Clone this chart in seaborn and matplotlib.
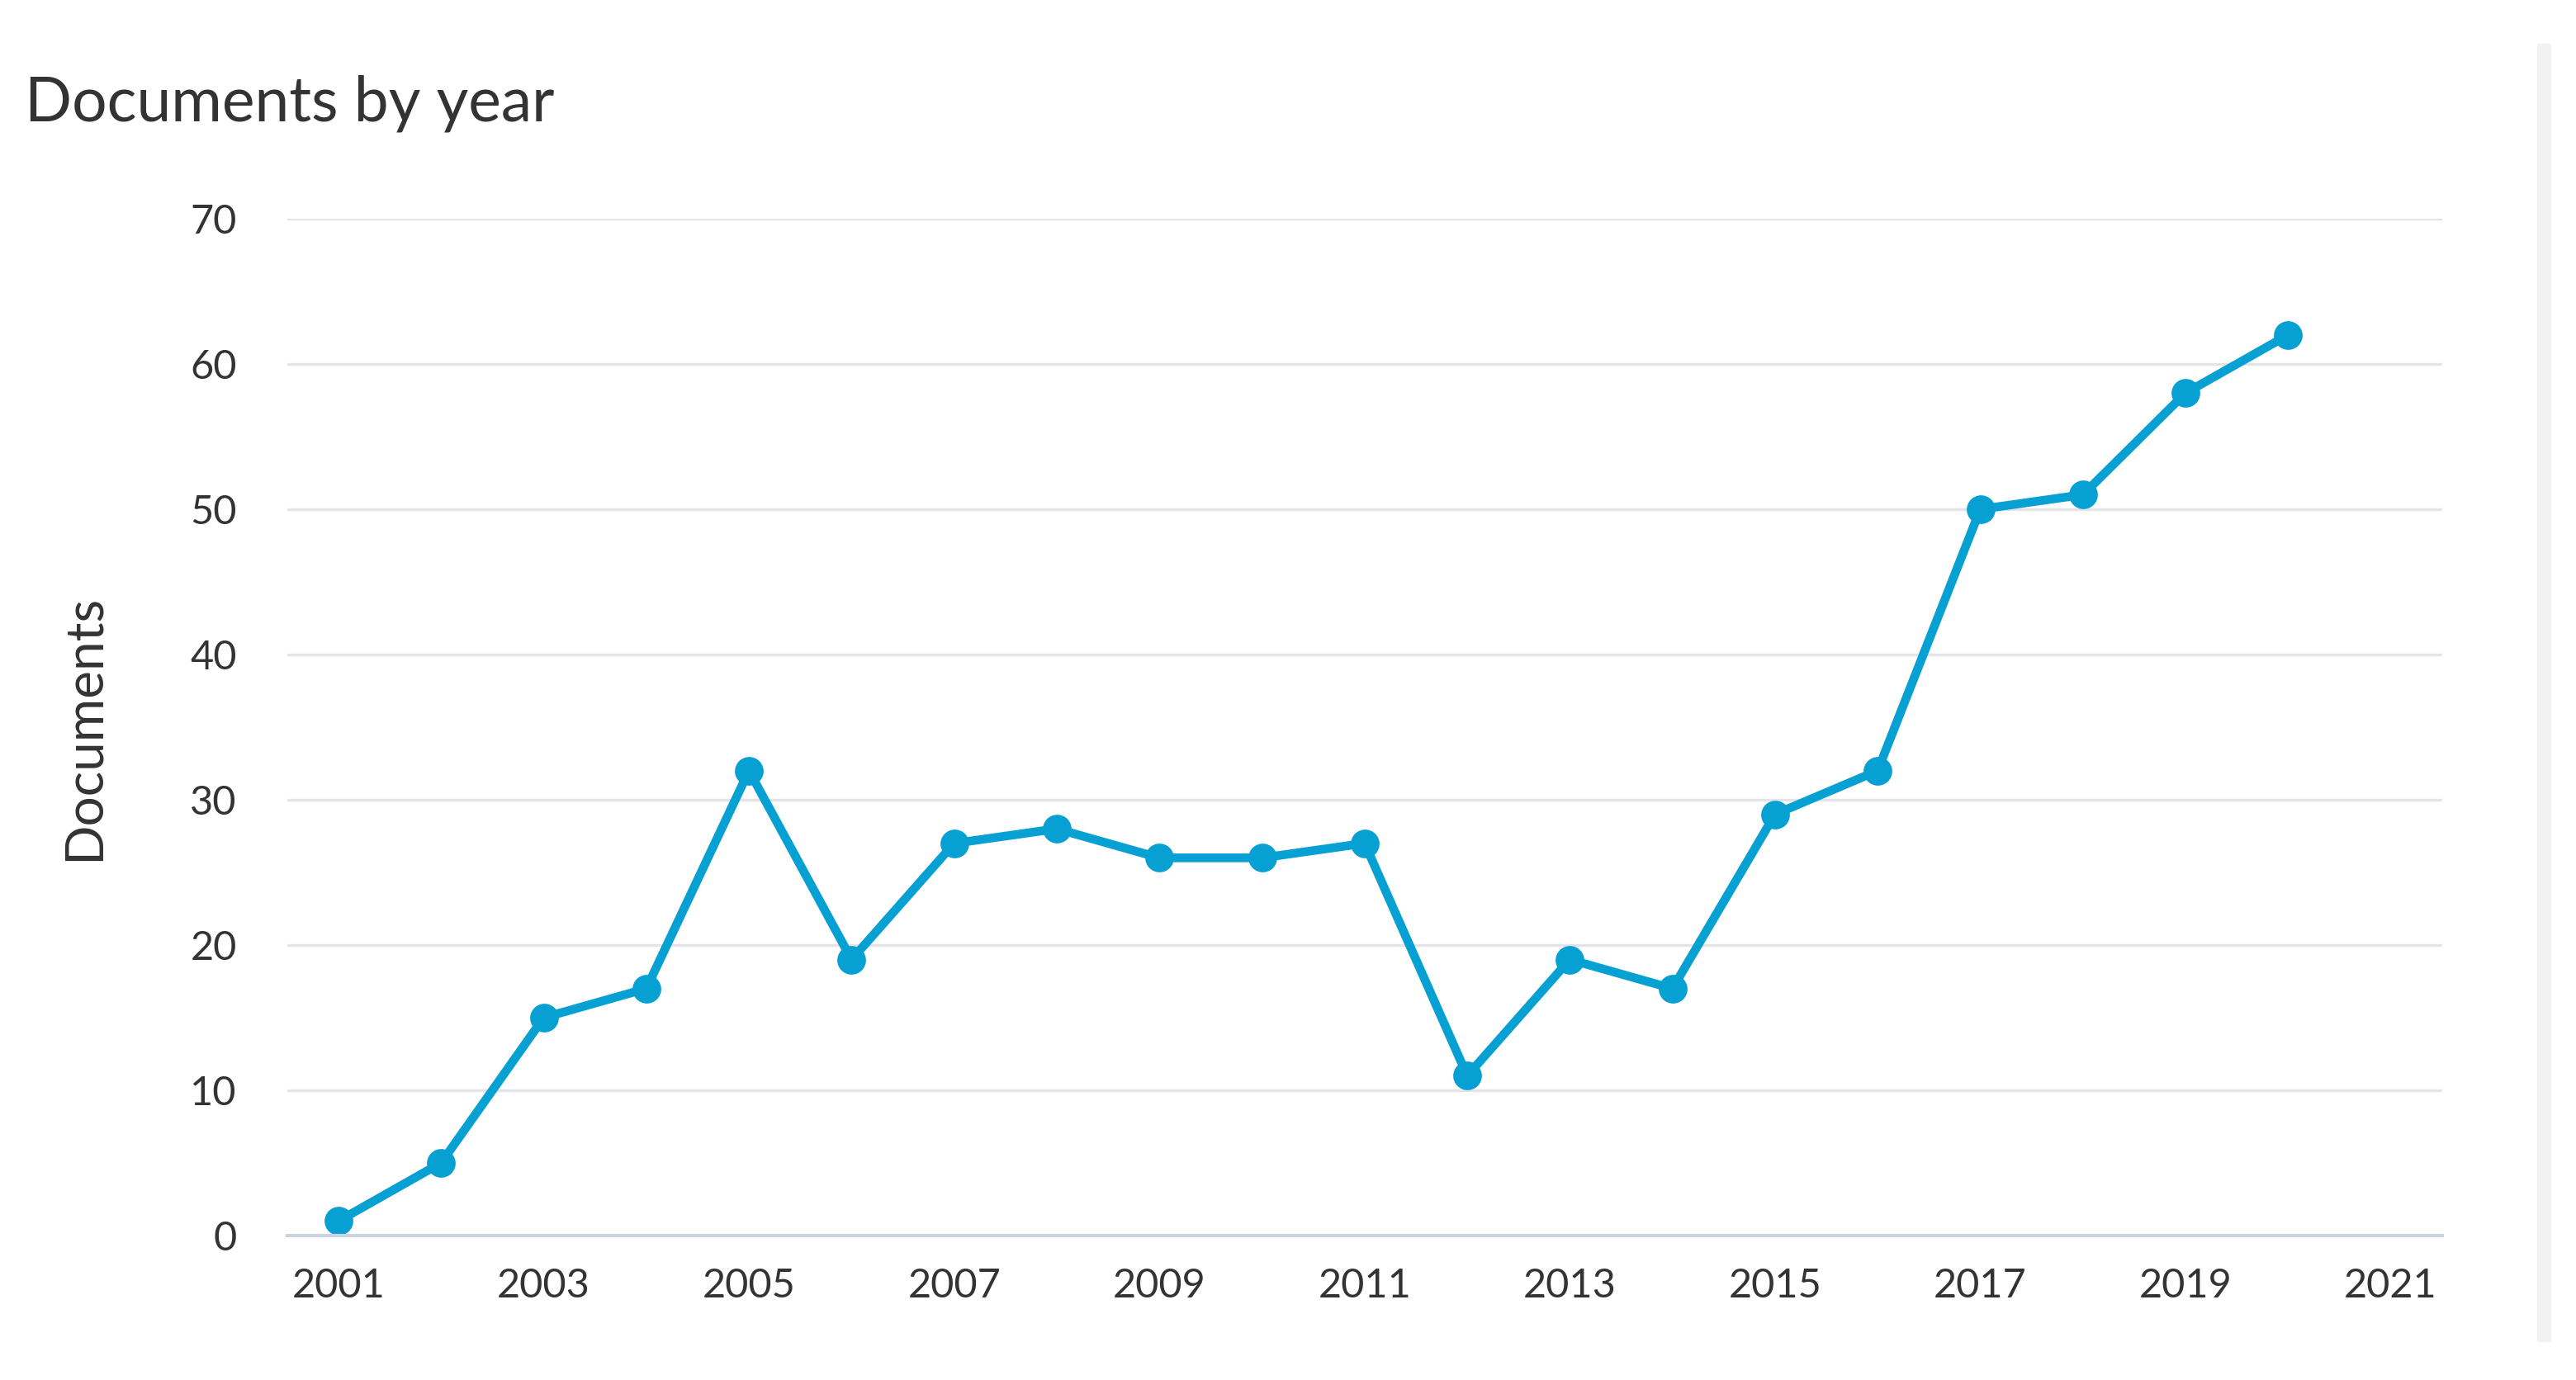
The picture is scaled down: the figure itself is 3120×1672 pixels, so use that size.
import matplotlib
matplotlib.use("Agg")
import matplotlib.pyplot as plt
import seaborn as sns
import pandas as pd
from matplotlib.patches import Rectangle

# Values
years = [2001, 2002, 2003, 2004, 2005, 2006, 2007, 2008, 2009, 2010,
         2011, 2012, 2013, 2014, 2015, 2016, 2017, 2018, 2019, 2020]
documents = [1, 5, 15, 17, 32, 19, 27, 28, 26, 26,
             27, 11, 19, 17, 29, 32, 50, 51, 58, 62]
x_ticks = [2001, 2003, 2005, 2007, 2009, 2011, 2013, 2015, 2017, 2019, 2021]
y_ticks = [0, 10, 20, 30, 40, 50, 60, 70]

df = pd.DataFrame({'Year': years, 'Documents': documents})

sns.set_style('white')
plt.rcParams['font.family'] = ['Lato', 'DejaVu Sans']

fig = plt.figure(figsize=(15.6, 8.36), dpi=200)
ax = fig.add_axes([0.1115, 0.1047, 0.8365, 0.7368])

line_color = '#06a0d2'
sns.lineplot(data=df, x='Year', y='Documents', ax=ax, color=line_color,
             linewidth=3.8, marker='o', markersize=12.5, markeredgewidth=0)

ax.set_xlim(2000.5, 2021.5)
ax.set_ylim(0, 70)
ax.set_xticks(x_ticks)
ax.set_yticks(y_ticks)
ax.tick_params(axis='both', length=0, labelsize=17.5, colors='#333333')
ax.tick_params(axis='y', pad=22)
ax.tick_params(axis='x', pad=14)

ax.grid(axis='y', color='#e3e3e8', linewidth=1.2)
ax.set_axisbelow(True)
for side in ['top', 'right', 'left']:
    ax.spines[side].set_visible(False)
ax.spines['bottom'].set_color('#cdd3e3')
ax.spines['bottom'].set_linewidth(1.5)

ax.set_xlabel('')
ax.set_ylabel('Documents', fontsize=23, color='#333333', labelpad=36)

fig.text(0.0095, 0.925, 'Documents by year', fontsize=27, color='#333333',
         ha='left', va='center')

# thin grey scrollbar strip on the right edge
fig.patches.append(Rectangle((3073 / 3120, 1 - 1626 / 1672), 17 / 3120, 1573 / 1672,
                             transform=fig.transFigure, facecolor='#f2f2f2',
                             edgecolor='none'))

fig.savefig('out.png', dpi=200, facecolor='white')
